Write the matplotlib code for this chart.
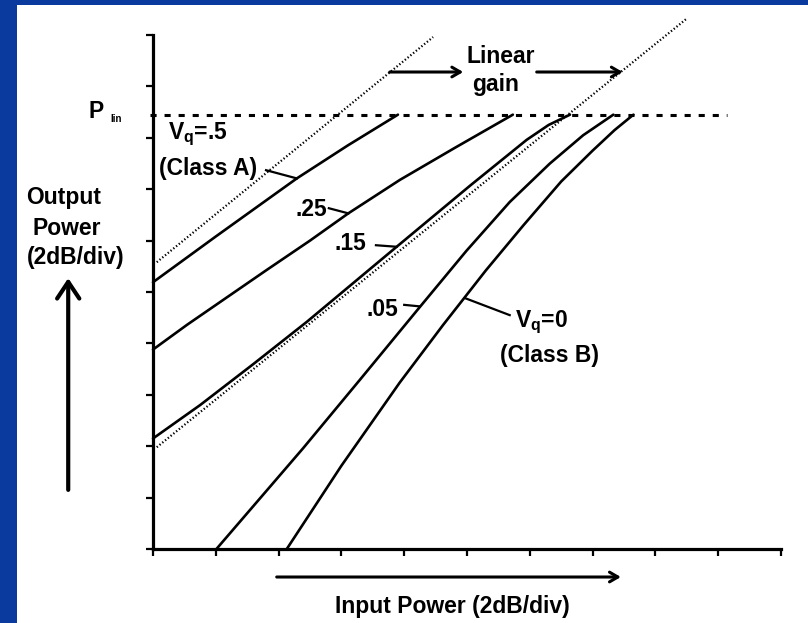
import matplotlib
matplotlib.use("Agg")
import matplotlib.pyplot as plt
from matplotlib.patches import Rectangle
import numpy as np

# ---- data (in divisions: 2 dB/div on both axes) ----
x_ticks = list(range(0, 11))
y_ticks = list(range(0, 11))
p_lin = 8.45

vq50_x = [0.0, 1.0, 2.29, 3.1, 3.9]
vq50_y = [5.19, 6.08, 7.21, 7.85, 8.45]

vq25_x = [0.0, 0.54, 1.8, 2.5, 3.11, 3.93, 4.8, 5.73]
vq25_y = [3.88, 4.36, 5.42, 6.0, 6.53, 7.18, 7.8, 8.45]

vq15_x = [0.0, 0.75, 1.6, 2.45, 3.88, 5.05, 5.95, 6.3, 6.64]
vq15_y = [2.15, 2.8, 3.6, 4.42, 5.88, 7.07, 7.96, 8.25, 8.45]

vq05_x = [1.01, 2.39, 3.3, 4.23, 4.99, 5.68, 6.32, 6.85, 7.33]
vq05_y = [0.0, 1.96, 3.3, 4.68, 5.8, 6.75, 7.5, 8.05, 8.45]

vq00_x = [2.13, 3.0, 3.93, 4.62, 5.3, 5.9, 6.5, 7.0, 7.35, 7.65]
vq00_y = [0.0, 1.62, 3.24, 4.36, 5.42, 6.3, 7.15, 7.75, 8.15, 8.45]

lin1_x = [0.06, 4.46]
lin1_y = [5.58, 9.96]
lin2_x = [0.06, 8.5]
lin2_y = [1.98, 10.32]

FONT = ['Liberation Sans', 'DejaVu Sans']
plt.rcParams['font.family'] = FONT
plt.rcParams['mathtext.fontset'] = 'custom'
plt.rcParams['mathtext.bf'] = 'Liberation Sans:bold'
plt.rcParams['mathtext.rm'] = 'Liberation Sans:bold'

W, H = 808, 623
fig = plt.figure(figsize=(W / 100, H / 100), dpi=100)
fig.patch.set_facecolor('#0A3A9E')
fig.patches.append(Rectangle((17 / W, 0), 1 - 17 / W, (H - 5) / H,
                             transform=fig.transFigure, facecolor='white',
                             edgecolor='none', zorder=-5))

ax = fig.add_axes([153 / W, (H - 549) / H, (781 - 153) / W, (549 - 35) / H])
ax.set_facecolor('none')
ax.set_xlim(0, 10)
ax.set_ylim(0, 10)
for s in ['top', 'right']:
    ax.spines[s].set_visible(False)
for s in ['left', 'bottom']:
    ax.spines[s].set_linewidth(2.3)
    ax.spines[s].set_color('black')
ax.set_xticks(x_ticks)
ax.set_yticks(y_ticks)
ax.set_xticklabels([])
ax.set_yticklabels([])
ax.tick_params(direction='out', length=5, width=1.6, color='black')

LW = 1.9
for xs, ys in [(vq50_x, vq50_y), (vq25_x, vq25_y), (vq15_x, vq15_y),
               (vq05_x, vq05_y), (vq00_x, vq00_y)]:
    ax.plot(xs, ys, color='black', lw=LW, solid_joinstyle='round',
            solid_capstyle='round', clip_on=False)

for xs, ys in [(lin1_x, lin1_y), (lin2_x, lin2_y)]:
    ax.plot(xs, ys, color='black', lw=1.6, linestyle=(0, (0.6, 1.0)), clip_on=False)

ax.plot([-0.05, 9.14], [p_lin, p_lin], color='black', lw=2.2,
        linestyle=(0, (2.0, 2.6)), clip_on=False)

fs = 16.5
tkw = dict(fontsize=fs, fontweight='bold', color='black', clip_on=False)

# P_lin label
ax.text(-0.78, 8.39, 'P', ha='right', va='baseline', **tkw)
ax.text(-0.59, 8.30, 'lin', ha='center', va='baseline', fontsize=7,
        fontweight='bold', clip_on=False)

# curve labels
ax.text(0.72, 8.07, r'V$_{\mathbf{q}}$=.5', ha='center', va='center', **tkw)
ax.text(0.88, 7.41, '(Class A)', ha='center', va='center', **tkw)
ax.text(2.52, 6.60, '.25', ha='center', va='center', **tkw)
ax.text(3.15, 5.95, '.15', ha='center', va='center', **tkw)
ax.text(3.65, 4.65, '.05', ha='center', va='center', **tkw)
ax.text(6.18, 4.42, r'V$_{\mathbf{q}}$=0', ha='center', va='center', **tkw)
ax.text(6.31, 3.77, '(Class B)', ha='center', va='center', **tkw)

# leader lines
for (x0, y0), (x1, y1) in [((1.8, 7.37), (2.29, 7.21)),
                           ((2.8, 6.63), (3.11, 6.53)),
                           ((3.55, 5.91), (3.88, 5.88)),
                           ((4.0, 4.75), (4.25, 4.72)),
                           ((4.97, 4.88), (5.68, 4.55))]:
    ax.plot([x0, x1], [y0, y1], color='black', lw=1.6, clip_on=False)

# Linear gain
ax.text(5.53, 9.46, 'Linear', ha='center', va='baseline', **tkw)
ax.text(5.46, 8.91, 'gain', ha='center', va='baseline', **tkw)
akw = dict(arrowstyle='->,head_length=0.6,head_width=0.35', lw=2.2, color='black',
           shrinkA=0, shrinkB=0)
ax.annotate('', xy=(4.94, 9.28), xytext=(3.77, 9.28), arrowprops=akw,
            annotation_clip=False)
ax.annotate('', xy=(7.48, 9.28), xytext=(6.11, 9.28), arrowprops=akw,
            annotation_clip=False)

# axis labels and arrows
ax.text(-1.42, 6.71, 'Output', ha='center', va='baseline', **tkw)
ax.text(-1.38, 6.11, 'Power', ha='center', va='baseline', **tkw)
ax.text(-1.23, 5.54, '(2dB/div)', ha='center', va='baseline', **tkw)
upkw = dict(arrowstyle='->,head_length=1.2,head_width=0.8', lw=3.0, color='black',
            shrinkA=0, shrinkB=0)
ax.annotate('', xy=(-1.35, 5.27), xytext=(-1.35, 1.15), arrowprops=upkw,
            annotation_clip=False)

ax.annotate('', xy=(7.45, -0.545), xytext=(1.97, -0.545), arrowprops=akw,
            annotation_clip=False)
ax.text(4.76, -1.245, 'Input Power (2dB/div)', ha='center', va='baseline', **tkw)

fig.savefig('out.png', dpi=100, facecolor=fig.get_facecolor())
